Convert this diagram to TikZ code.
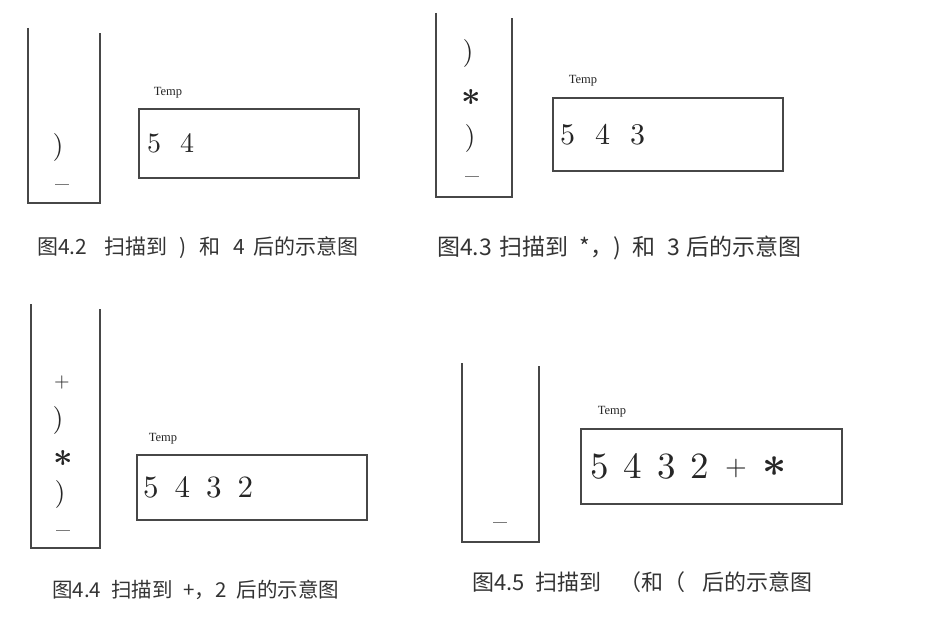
\RequirePackage{fix-cm}
\documentclass[tikz,border=0pt]{standalone}
\usepackage{fontspec}
\newfontfamily\cjk{Noto Sans CJK SC}
\newfontfamily\numfont{lmroman10-regular}[Extension=.otf]
\newfontfamily\labelfont{Liberation Serif}
\begin{document}
\begin{tikzpicture}[x=1pt, y=-1pt,
        wall/.style={draw=black!72, line width=1.6pt},
        tempbox/.style={draw=black!72, line width=1.6pt, anchor=north west, inner sep=0pt},
        item/.style={font=\numfont\fontsize{28}{28}\selectfont, inner sep=0pt, text=black!85},
        star/.style={font=\fontsize{34}{34}\selectfont\boldmath, inner sep=0pt, text=black!85},
        templabel/.style={font=\labelfont\fontsize{12.5}{12.5}\selectfont, inner sep=0pt, text=black!85},
        tempnum/.style={anchor=west, inner sep=0pt, text=black!85},
        caption/.style={font=\cjk\fontsize{21}{21}\selectfont, anchor=west, inner sep=0pt, text=black!80}]
    \useasboundingbox (0,0) rectangle (935,634);

    \draw[wall] (28,28) -- (28,203) -- (100,203) -- (100,33);
    \node[item] (a1) at (58,147) {)};
    \node[item] (a0) at (62,189) {–};
    \node[templabel] (labelA) at (168,93) {Temp};
    \node[tempbox, minimum width=220pt, minimum height=69pt] (boxA) at (138,108) {};
    \node[tempnum, font=\numfont\fontsize{28}{28}\selectfont] (numA) at ([xshift=9pt]boxA.west) {5\hspace{19pt}4};
    \node[caption] (capA) at (37,248) {图4.2\hspace{.8em}扫描到\hspace{.6em})\hspace{.6em}和\hspace{.6em}4\hspace{.4em}后的示意图};

    \draw[wall] (436,13) -- (436,197) -- (512,197) -- (512,18);
    \node[item] (b3) at (468,54) {)};
    \node[star] (b2) at (471,97) {$\ast$};
    \node[item] (b1) at (470,138) {)};
    \node[item] (b0) at (472,181) {–};
    \node[templabel] (labelB) at (583,81) {Temp};
    \node[tempbox, minimum width=230pt, minimum height=73pt] (boxB) at (552,97) {};
    \node[tempnum, font=\numfont\fontsize{30}{30}\selectfont] (numB) at ([xshift=8pt]boxB.west) {5\hspace{20pt}4\hspace{20pt}3};
    \node[caption, font=\cjk\fontsize{23}{23}\selectfont] (capB) at (437,248) {图4.3\hspace{.3em}扫描到\hspace{.5em}*，)\hspace{.5em}和\hspace{.5em}3\hspace{.3em}后的示意图};

    \draw[wall] (31,304) -- (31,548) -- (100,548) -- (100,309);
    \node[item, font=\numfont\fontsize{20}{20}\selectfont] (c4) at (62,382) {+};
    \node[item] (c3) at (58,420) {)};
    \node[star] (c2) at (63,458) {$\ast$};
    \node[item] (c1) at (60,494) {)};
    \node[item] (c0) at (63,535) {–};
    \node[templabel] (labelC) at (163,439) {Temp};
    \node[tempbox, minimum width=230pt, minimum height=65pt] (boxC) at (136,454) {};
    \node[tempnum, font=\numfont\fontsize{31}{31}\selectfont] (numC) at ([xshift=7pt]boxC.west) {5\hspace{16pt}4\hspace{16pt}3\hspace{16pt}2};
    \node[caption, font=\cjk\fontsize{20.5}{20.5}\selectfont] (capC) at (52,590) {图4.4\hspace{.5em}扫描到\hspace{.5em}+，2\hspace{.5em}后的示意图};

    \draw[wall] (462,363) -- (462,542) -- (539,542) -- (539,366);
    \node[item] (d0) at (500,527) {–};
    \node[templabel] (labelD) at (612,412) {Temp};
    \node[tempbox, minimum width=261pt, minimum height=75pt] (boxD) at (580,428) {};
    \node[tempnum, font=\numfont\fontsize{37}{37}\selectfont] (numD) at ([xshift=10pt]boxD.west)
        {5\hspace{15pt}4\hspace{15pt}3\hspace{15pt}2\hspace{16pt}\raisebox{3pt}{\fontsize{28}{28}\selectfont+}\hspace{16pt}\raisebox{2pt}{\fontsize{42}{42}\selectfont\boldmath$\ast$}};
    \node[caption, font=\cjk\fontsize{22}{22}\selectfont] (capD) at (472,582) {图4.5\hspace{.5em}扫描到\hspace{.8em}（和（\hspace{.8em}后的示意图};
\end{tikzpicture}
\end{document}
